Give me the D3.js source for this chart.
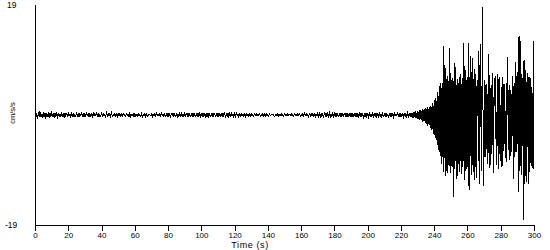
<!DOCTYPE html>
<html>
<head>
<meta charset="utf-8">
<script src="https://cdn.jsdelivr.net/npm/d3@7"></script>
<style>
  html, body { margin: 0; padding: 0; background: #fff; }
  svg { display: block; }
  text { font-family: "Liberation Sans", Arial, sans-serif; fill: #000; }
</style>
</head>
<body>
<script>
// ---- data ----
const xDomain = [0, 300];
const yDomain = [-19, 19];
const xTicks = [0, 20, 40, 60, 80, 100, 120, 140, 160, 180, 200, 220, 240, 260, 280, 300];
const yLabels = ["19", "-19"];
const xTitle = "Time (s)";
const yTitle = "cm/s/s";

// quiet segment: t = 0 .. 224.5 s, 0.5 s step
const quietStart = 0, quietStep = 0.5;
const quietAccel = [
  0.4,-0.5,0.3,-0.6,0.5,-0.3,0.6,-0.4,0.2,-0.5,0.5,-0.4,0.3,-0.6,0.4,-0.3,0.5,-0.5,0.3,-0.4,
  0.6,-0.3,0.4,-0.5,0.3,-0.4,0.5,-0.6,0.4,-0.3,0.2,-0.4,0.5,-0.3,0.4,-0.5,0.3,-0.2,0.4,-0.3,
  0.3,-0.2,0.2,-0.3,0.3,-0.1,0.2,-0.3,0.1,-0.2,0.3,-0.2,0.2,-0.3,0.2,-0.1,0.3,-0.2,0.2,-0.3,
  0.2,-0.2,0.3,-0.1,0.2,-0.3,0.2,-0.2,0.1,-0.3,0.3,-0.2,0.2,-0.1,0.3,-0.2,0.2,-0.3,0.1,-0.2,
  0.3,-0.2,0.2,-0.2,0.1,-0.3,0.3,-0.2,0.2,-0.1,0.2,-0.3,0.3,-0.2,0.1,-0.2,0.3,-0.1,0.2,-0.3,
  0.2,-0.1,0.3,-0.2,0.1,-0.2,0.3,0.1,-0.1,-0.2,0.2,-0.1,0.1,-0.3,0.3,-0.2,0.1,-0.1,0.2,-0.3,
  0.2,-0.1,0.1,-0.2,0.3,-0.1,0.1,-0.2,0.2,-0.3,0.1,-0.1,0.3,-0.2,0.1,-0.2,-0.1,0.2,0.1,-0.1,
  0.1,-0.3,0.2,-0.1,0.2,-0.2,0.3,-0.1,0.1,-0.2,0.2,-0.2,0.3,-0.1,0.2,-0.3,0.2,-0.2,0.1,-0.2,
  0.3,-0.2,0.2,-0.3,0.2,-0.1,0.3,-0.2,0.2,-0.2,0.1,-0.3,0.2,-0.2,0.3,-0.1,0.2,-0.3,0.2,-0.2,
  0.3,-0.3,0.4,-0.2,0.3,-0.3,0.2,-0.4,0.3,-0.2,0.4,-0.3,0.3,-0.4,0.2,-0.3,0.4,-0.3,0.3,-0.2,
  0.4,-0.3,0.3,-0.4,0.3,-0.2,0.4,-0.4,0.3,-0.3,0.2,-0.4,0.3,-0.3,0.4,-0.2,0.3,-0.4,0.3,-0.3,
  0.3,-0.3,0.4,-0.2,0.2,-0.3,0.3,-0.2,0.3,-0.3,0.2,-0.2,0.3,-0.3,0.2,-0.1,0.3,-0.2,0.2,-0.3,
  0.2,-0.2,0.3,-0.1,0.2,-0.3,0.1,-0.2,0.2,-0.1,0.2,-0.2,0.1,-0.2,0.3,-0.1,0.2,-0.2,0.1,-0.2,
  0.2,-0.1,0.1,-0.2,0.2,-0.1,0.2,-0.2,0.1,-0.1,0.2,-0.2,0.1,-0.1,0.2,-0.2,0.1,-0.2,0.2,-0.1,
  0.1,-0.2,0.2,-0.1,0.1,0.2,0.1,-0.1,-0.2,-0.1,0.1,-0.1,0.2,-0.2,0.1,-0.1,0.2,-0.1,0.1,-0.2,
  0.2,-0.1,0.1,-0.2,0.2,-0.1,0.1,-0.1,0.2,-0.2,0.1,-0.2,0.2,-0.1,0.1,-0.2,0.2,-0.1,0.2,-0.2,
  0.1,-0.2,0.2,-0.2,0.3,-0.1,0.2,-0.2,0.1,-0.3,0.2,-0.2,0.3,-0.2,0.2,-0.1,0.2,-0.3,0.2,-0.2,
  0.3,-0.2,0.2,-0.3,0.3,-0.2,0.2,-0.3,0.3,-0.2,0.4,-0.3,0.3,-0.2,0.3,-0.3,0.2,-0.3,0.3,-0.2,
  0.3,-0.3,0.4,-0.3,0.3,-0.4,0.3,-0.3,0.4,-0.3,0.3,-0.3,0.4,-0.2,0.3,-0.4,0.3,-0.3,0.4,-0.3,
  0.3,-0.4,0.3,-0.3,0.4,-0.3,0.3,-0.4,0.3,-0.2,0.3,-0.3,0.4,-0.3,0.2,-0.3,0.3,-0.4,0.3,-0.3,
  0.2,-0.3,0.3,-0.2,0.2,-0.3,0.3,-0.2,0.2,-0.2,0.3,-0.3,0.2,-0.2,0.3,-0.2,0.2,-0.3,0.3,-0.2,
  0.2,-0.2,0.3,-0.2,0.1,-0.3,0.2,-0.2,0.3,-0.2,0.2,-0.3,0.3,-0.2,0.2,-0.1,0.3,-0.2,0.2,-0.3,
  0.3,-0.2,0.2,-0.3,0.3,-0.3,0.2,-0.3,0.3,-0.2
];

// strong-motion segment: t = 225 .. 300 s, 0.25 s step
const strongStart = 225, strongStep = 0.25;
const strongAccel = [
  0.3,-0.2,0.2,-0.3,   0.4,-0.3,0.3,-0.4,   0.3,-0.5,0.5,-0.3,   0.5,-0.4,0.4,-0.5,   0.6,-0.5,0.4,-0.6,
  0.7,-0.6,0.5,-0.7,   0.8,-0.9,0.6,-0.7,   0.9,-0.8,0.7,-1.0,   1.0,-1.2,0.8,-0.9,   1.1,-1.0,0.9,-1.4,
  1.2,-1.6,1.0,-1.3,   1.3,-1.9,1.1,-1.5,   1.4,-1.8,1.2,-2.2,   1.5,-2.6,1.3,-2.0,   2.0,-2.4,1.6,-3.2,
  2.6,-3.4,2.2,-4.0,   3.0,-4.4,2.4,-5.0,   4.0,-5.2,3.2,-6.0,   5.0,-6.4,4.2,-7.0,   5.5,-8.5,4.6,-7.2,
  5.6,-6.8,12.0,-9.8,  8.6,-7.4,7.0,-10.5,  8.2,-9.6,6.2,-8.0,   6.8,-10.0,5.8,-8.6,  11.6,-8.8,6.4,-10.0,
  7.2,-8.8,6.0,-7.6,   6.4,-9.0,5.8,-14.2,  7.6,-9.4,9.0,-8.0,   6.0,-11.0,5.2,-9.2,  6.2,-10.6,5.6,-8.4,
  5.8,-9.8,6.6,-8.0,   7.0,-10.2,5.4,-9.0,  6.4,-8.6,12.4,-8.0,  8.4,-11.2,6.8,-9.6,  7.8,-9.4,6.0,-8.8,
  6.6,-9.0,12.4,-10.2, -13.0,6.6,-9.2,5.8,  10.2,-10.4,7.4,-8.6, 9.8,-8.6,6.2,-9.8,  8.0,-11.2,6.4,-9.0,
  7.0,-10.8,-6.0,5.6,  6.0,4.2,-8.0,11.0,   -7.2,-12.0,7.8,12.2, 7.4,-9.6,-6.4,5.2,  18.7,6.2,-8.2,-12.2,
  -6.0,6.0,4.2,5.2,    -7.2,-5.0,5.4,3.6,   -5.8,-8.4,-4.4,10.6, 6.2,4.6,-9.2,-7.0,   3.8,5.2,-6.8,-5.6,
  7.2,4.4,-10.0,-7.8,  5.0,6.4,3.2,-4.2,    6.8,-3.0,-8.6,-6.0,  4.4,7.0,5.4,-9.4,    -6.2,6.6,4.2,-8.0,
  -5.4,4.8,3.6,-9.0,   -6.4,6.5,4.0,-6.2,   -4.8,5.4,3.8,-7.4,   -5.0,-8.2,5.6,4.2,   10.0,6.0,-6.0,-4.6,
  5.2,4.0,-7.8,-5.4,   4.4,3.4,-6.4,-5.2,   6.8,4.6,-11.0,-6.6,  5.6,4.0,-7.2,-5.0,   9.2,5.8,-6.4,-4.8,
  7.4,5.0,-13.3,-6.0,  13.6,6.2,-9.6,-7.4,  12.8,5.4,-10.4,-8.0, 6.4,4.8,-7.0,-18.1,  9.5,6.0,-12.0,-8.4,
  7.8,5.2,-11.6,-7.0,  7.2,4.4,-12.0,-8.6,  6.6,5.0,-9.8,-6.2,   6.4,4.6,-8.8,-5.4,   3.8,-9.2,-6.0,12.7,
  -9.4
];

// ---- build table ----
const points = [];
quietAccel.forEach((v, i) => points.push({ t: quietStart + i * quietStep, a: v }));
strongAccel.forEach((v, i) => points.push({ t: strongStart + i * strongStep, a: v }));

// ---- layout ----
const W = 550, H = 250;
const mLeft = 35, mRight = 534, mTop = 5, mBottom = 225;

const svg = d3.select("body").append("svg").attr("width", W).attr("height", H);

const x = d3.scaleLinear().domain(xDomain).range([mLeft, mRight]);
const y = d3.scaleLinear().domain(yDomain).range([mBottom, mTop]);

// trace
svg.append("path")
  .datum(points)
  .attr("fill", "none")
  .attr("stroke", "#000")
  .attr("stroke-width", 1)
  .attr("shape-rendering", "crispEdges")
  .attr("d", d3.line().x(d => x(d.t)).y(d => y(d.a)));

// x axis
const xAxis = svg.append("g")
  .attr("transform", `translate(0,${mBottom})`)
  .call(d3.axisBottom(x).tickValues(xTicks).tickSize(6).tickPadding(1.5).tickSizeOuter(0).tickFormat(d3.format("d")));
xAxis.select(".domain").attr("stroke", "#000").attr("shape-rendering", "crispEdges");
xAxis.selectAll(".tick line").attr("stroke", "#000").attr("shape-rendering", "crispEdges");
xAxis.selectAll("text").attr("font-size", "8px").attr("font-family", "\"Liberation Sans\", Arial, sans-serif").attr("fill", "#000");

// y axis line
svg.append("line")
  .attr("x1", x(xDomain[0])).attr("x2", x(xDomain[0]))
  .attr("y1", y(yDomain[1])).attr("y2", y(yDomain[0]))
  .attr("stroke", "#000")
  .attr("shape-rendering", "crispEdges");

// y end labels
svg.append("text")
  .attr("x", 7).attr("y", y(yDomain[1]))
  .attr("dy", "0.35em")
  .attr("font-size", "8.5px")
  .text(yLabels[0]);
svg.append("text")
  .attr("x", 5).attr("y", y(yDomain[0]))
  .attr("dy", "0.35em")
  .attr("font-size", "8.5px")
  .text(yLabels[1]);

// titles
svg.append("text")
  .attr("x", 250)
  .attr("y", 248)
  .attr("text-anchor", "middle")
  .attr("font-size", "9px")
  .attr("letter-spacing", "0.6px")
  .text(xTitle);

svg.append("text")
  .attr("transform", `translate(15,113) rotate(-90)`)
  .attr("text-anchor", "middle")
  .attr("font-size", "7.5px")
  .text(yTitle);
</script>
</body>
</html>
